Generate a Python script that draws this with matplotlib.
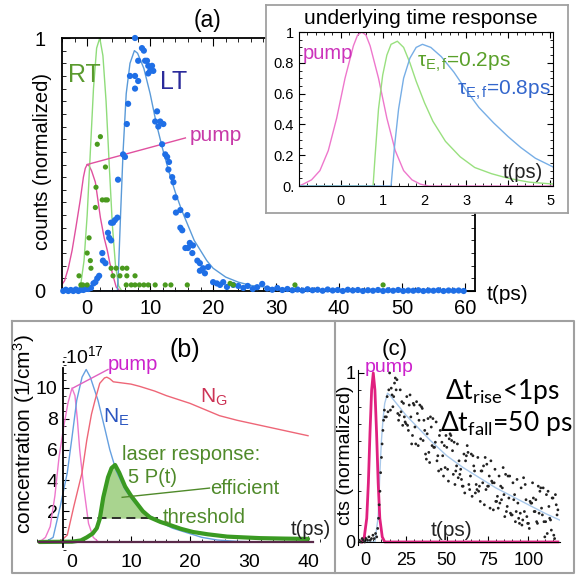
import numpy as np
import matplotlib.pyplot as plt
from matplotlib.ticker import MultipleLocator, FixedLocator

plt.rcParams['font.family'] = ['Liberation Sans', 'DejaVu Sans']
plt.rcParams['mathtext.fontset'] = 'custom'
plt.rcParams['mathtext.rm'] = 'Liberation Sans'
plt.rcParams['mathtext.it'] = 'Liberation Sans:italic'

# ---------------- panel (a): measured counts ----------------
a_lt_dots = [(-3.8, 0.0), (-3.4, 0.005), (-3.0, 0.0), (-2.6, 0.004), (-2.2, 0.0), (-1.8, 0.006),
             (-1.4, 0.0), (-1.0, 0.005), (-0.6, 0.004), (-0.2, 0.008), (0.2, 0.008), (0.6, 0.012),
             (1.0, 0.03), (1.3, 0.035), (1.6, 0.05), (1.9, 0.06), (2.4, 0.15), (2.5, 0.12), (2.9, 0.11),
             (3.3, 0.23), (3.5, 0.21), (3.8, 0.2), (3.8, 0.27), (4.1, 0.27), (4.4, 0.28), (4.8, 0.29),
             (4.9, 0.44), (5.7, 0.54), (6.0, 0.53), (6.3, 0.66), (6.5, 0.74), (6.8, 0.85), (7.6, 0.85),
             (8.1, 0.83), (7.6, 0.80), (7.6, 1.0), (8.1, 0.91), (8.7, 0.96), (9.0, 0.95), (9.2, 0.91),
             (9.5, 0.91), (9.7, 0.89), (10.3, 0.89), (10.0, 0.87), (10.5, 0.87), (9.7, 0.86), (11.1, 0.71),
             (10.8, 0.67), (11.6, 0.67), (12.1, 0.66), (11.3, 0.65), (11.9, 0.58), (12.4, 0.54), (12.7, 0.53),
             (13.0, 0.51), (12.9, 0.48), (13.5, 0.45), (13.7, 0.43), (14.0, 0.37), (14.8, 0.32), (14.1, 0.31),
             (15.9, 0.30), (14.8, 0.25), (15.1, 0.24), (16.3, 0.19), (16.8, 0.18), (16.0, 0.17), (15.6, 0.17),
             (16.7, 0.15), (17.5, 0.12), (17.9, 0.11), (18.4, 0.09), (19.2, 0.095), (17.9, 0.08), (18.7, 0.07),
             (20.0, 0.035), (20.6, 0.03), (21.1, 0.024), (21.6, 0.035), (22.2, 0.016), (23.2, 0.024),
             (24.0, 0.02), (24.8, 0.012), (25.5, 0.02), (26.3, 0.008), (27.0, 0.015), (27.8, 0.028),
             (28.6, 0.01), (29.4, 0.005), (30.2, 0.012), (31.0, 0.004), (31.8, 0.008), (32.6, 0.003),
             (33.4, 0.006), (34.2, 0.002), (35.0, 0.007), (35.8, 0.003), (36.6, 0.005), (37.4, 0.001),
             (38.2, 0.006), (39.0, 0.002), (39.8, 0.004), (40.6, 0.0), (41.4, 0.005), (42.2, 0.002),
             (43.0, 0.004), (43.8, 0.0), (44.6, 0.003), (45.4, 0.001), (46.2, 0.004), (47.0, 0.0),
             (47.8, 0.003), (48.6, 0.001), (49.4, 0.004), (50.2, 0.0), (51.0, 0.002), (51.8, 0.001),
             (52.6, 0.003), (53.4, 0.0), (54.2, 0.002), (55.0, 0.001), (55.8, 0.003), (56.6, 0.0),
             (57.4, 0.002), (58.2, 0.001), (59.0, 0.002), (59.8, 0.0)]
a_rt_dots = [(-1.3, 0.06), (-1.0, 0.024), (-0.7, 0.024), (0.0, 0.024), (0.0, 0.15), (0.3, 0.21),
             (0.6, 0.09), (0.5, 0.12), (1.3, 0.33), (1.4, 0.41), (1.6, 0.58), (2.1, 0.61), (2.4, 0.36),
             (2.9, 0.36), (3.2, 0.36), (2.9, 0.49), (3.8, 0.09), (4.1, 0.06), (4.6, 0.09), (5.2, 0.06),
             (5.6, 0.09), (6.3, 0.09), (6.3, 0.06), (7.6, 0.06), (6.2, 0.024), (7.0, 0.024), (7.6, 0.024),
             (8.3, 0.024), (9.0, 0.024), (9.7, 0.024), (10.8, 0.024), (12.4, 0.024), (13.3, 0.024),
             (15.9, 0.024), (22.7, 0.03), (23.2, 0.024), (33.0, 0.024), (47.0, 0.024)]
a_lt_fit_t = [-4, 4.8, 5.0, 5.3, 5.7, 6.2, 6.8, 7.5, 8, 9, 10, 11, 12, 13, 14, 15, 16, 17, 18, 19, 20,
              22, 24, 26, 30, 35, 40, 61.6]
a_lt_fit_v = [0, 0, 0.1, 0.3, 0.55, 0.78, 0.9, 0.95, 0.94, 0.88, 0.78, 0.66, 0.56, 0.47, 0.39, 0.32,
              0.26, 0.2, 0.16, 0.12, 0.09, 0.055, 0.035, 0.022, 0.01, 0.004, 0.002, 0]
a_rt_fit_t = [-4, -1.5, -1, -0.5, 0, 0.5, 1, 1.5, 2, 2.5, 3, 3.5, 4, 4.5, 5, 5.5, 61.6]
a_rt_fit_v = [0, 0, 0.03, 0.12, 0.3, 0.55, 0.8, 0.96, 1.0, 0.93, 0.75, 0.5, 0.26, 0.1, 0.02, 0, 0]
a_pump_t = [-4.3, -3.6, -3.0, -2.4, -1.8, -1.1, -0.6, -0.3, 0, 0.3, 0.7, 1.3, 2.1, 2.7, 3.2, 3.6, 4.0,
            4.6, 5.2, 25]
a_pump_v = [0.016, 0.04, 0.09, 0.16, 0.25, 0.36, 0.45, 0.485, 0.5, 0.495, 0.475, 0.43, 0.29, 0.21,
            0.16, 0.11, 0.07, 0.016, 0, 0]

# inset: underlying time response
ins_pump_t = [-1, -0.9, -0.7, -0.5, -0.3, -0.1, 0.1, 0.3, 0.4, 0.5, 0.6, 0.7, 0.9, 1.1, 1.3, 1.5, 1.7,
              1.9, 2.1, 5.1]
ins_pump_v = [0, 0.012, 0.04, 0.1, 0.23, 0.44, 0.7, 0.91, 0.98, 1.0, 0.98, 0.91, 0.7, 0.44, 0.23,
              0.1, 0.04, 0.012, 0, 0]
ins_fast_t = [-1, 0.77, 0.82, 0.9, 1.0, 1.1, 1.2, 1.35, 1.5, 1.65, 1.8, 2.0, 2.2, 2.5, 2.85, 3.2, 3.6,
              4.0, 4.5, 5.1]
ins_fast_v = [0, 0, 0.2, 0.5, 0.72, 0.85, 0.92, 0.94, 0.9, 0.8, 0.68, 0.54, 0.42, 0.29, 0.19, 0.12,
              0.08, 0.05, 0.025, 0.012]
ins_slow_t = [-1, 1.2, 1.28, 1.38, 1.5, 1.65, 1.8, 1.95, 2.15, 2.4, 2.7, 3.0, 3.3, 3.65, 4.0, 4.3,
              4.65, 5.1]
ins_slow_v = [0, 0, 0.25, 0.5, 0.7, 0.83, 0.9, 0.92, 0.9, 0.84, 0.74, 0.62, 0.51, 0.41, 0.32, 0.25,
              0.18, 0.12]

# ---------------- panel (b): rate equation model ----------------
b_pump_t = [-5.5, -4.5, -3.7, -2.9, -2.2, -1.4, -0.7, 0, 0.5, 0.9, 1.3, 2.0, 2.8, 3.6, 4.5, 40]
b_pump_v = [0, 0.3, 1.0, 3.0, 5.5, 7.5, 9.0, 10.0, 9.5, 8.0, 6.0, 3.5, 1.2, 0.3, 0, 0]
b_ne_t = [-5.5, -4.5, -3.2, -2.0, -0.8, 0, 0.8, 1.7, 2.4, 3.1, 4.4, 5.6, 6.4, 7.5, 9, 10.3, 12, 14.4,
          17, 19.5, 22, 24.6, 28, 32, 40]
b_ne_v = [0, 0, 0.3, 2.3, 4.5, 6.8, 9.2, 10.7, 11.2, 10.7, 9.2, 7.3, 6.0, 4.6, 3.4, 2.7, 2.0, 1.4,
          0.9, 0.6, 0.3, 0.13, 0.04, 0, 0]
b_ng_t = [-5.5, -3, -1.8, -0.8, 0.3, 1.7, 2.5, 3.3, 3.9, 4.7, 5.5, 5.9, 6.4, 7.0, 8, 10, 11.5, 14, 16,
          18, 20, 22.5, 25, 28, 31, 34, 37, 40]
b_ng_v = [0, 0, 0.1, 0.45, 2.3, 4.5, 6.6, 8.3, 9.2, 10.3, 10.65, 10.7, 10.6, 10.4, 10.35, 10.25, 10.1,
          9.8, 9.5, 9.25, 9.0, 8.6, 8.2, 7.9, 7.65, 7.4, 7.15, 6.9]
b_laser_t = [-5.5, 0, 1.5, 2.5, 3.5, 4.2, 4.7, 5.3, 6.1, 6.7, 7.3, 8, 9, 10, 11, 12, 13.2, 15, 16.6,
             18.5, 20.5, 23, 26.3, 29, 31.9, 36, 40]
b_laser_v = [0, 0.02, 0.1, 0.3, 0.55, 0.9, 1.5, 2.9, 4.2, 4.8, 5.0, 4.5, 3.6, 3.0, 2.5, 2.0, 1.6, 1.3,
             1.1, 0.85, 0.65, 0.5, 0.35, 0.3, 0.25, 0.22, 0.2]
b_threshold = 1.55
b_threshold_t = [1.8, 14.5]

# ---------------- panel (c): measured laser response ----------------
c_pump_t = [-2, -0.5, 1, 2, 3, 4, 5, 6, 7, 8, 9, 10.5, 12, 118]
c_pump_v = [0, 0.03, 0.14, 0.35, 0.65, 0.9, 1.0, 0.9, 0.65, 0.35, 0.14, 0.03, 0, 0]
c_fit_t = [-4, 6, 8, 9, 10, 11, 12, 13.7, 15, 20, 25, 30, 35, 40, 50, 60, 70, 80, 90, 100, 110, 119]
c_fit_v = [0, 0, 0.15, 0.4, 0.6, 0.73, 0.82, 0.88, 0.87, 0.81, 0.75, 0.7, 0.65, 0.6, 0.51, 0.44, 0.38,
           0.32, 0.27, 0.22, 0.17, 0.13]
c_dots = [(-3.5, 0.01), (-2.6, 0.0), (-1.8, 0.02), (-1.0, 0.01), (-0.2, 0.0), (0.6, 0.02), (1.5, 0.01),
          (2.3, 0.03), (3.1, 0.01), (3.9, 0.02), (4.8, 0.04), (5.6, 0.02), (6.4, 0.05), (7.1, 0.03),
          (7.7, 0.08), (8.2, 0.14), (8.6, 0.22), (9.1, 0.3), (9.5, 0.41), (10.0, 0.5), (10.4, 0.58),
          (10.9, 0.66), (11.3, 0.72), (11.8, 0.78), (12.2, 0.74),
          (13.0, 0.74), (13.5, 0.86), (14.0, 0.77), (14.5, 0.90), (15.0, 1.0), (15.5, 0.78), (16.0, 0.91),
          (16.5, 0.87), (17.0, 0.80), (17.5, 0.86), (18.0, 0.94), (18.5, 0.97), (19.0, 0.90), (19.5, 0.96),
          (20.0, 0.76), (20.5, 0.72), (21.0, 0.75), (21.5, 0.90), (22.0, 0.77), (22.5, 0.83), (23.0, 0.69),
          (23.5, 0.82), (24.0, 0.74), (24.5, 0.71), (25.0, 0.70), (25.5, 0.86), (26.0, 0.69), (26.5, 0.66),
          (27.0, 0.81), (27.5, 0.87), (28.0, 0.74), (28.5, 0.58), (29.0, 0.63), (29.5, 0.82), (30.0, 0.81),
          (30.5, 0.68), (31.0, 0.58), (31.5, 0.83), (32.0, 0.76), (32.5, 0.57), (33.0, 0.72), (33.5, 0.81),
          (34.0, 0.61), (34.5, 0.80), (35.0, 0.79), (35.5, 0.60), (36.0, 0.72), (36.5, 0.66), (37.0, 0.52),
          (37.5, 0.49), (38.0, 0.64), (38.5, 0.73), (39.0, 0.53), (39.5, 0.47), (40.0, 0.74), (40.5, 0.68),
          (41.0, 0.57), (41.5, 0.73), (42.0, 0.56), (42.5, 0.56), (43.0, 0.59), (43.5, 0.71), (44.0, 0.48),
          (44.5, 0.51), (45.0, 0.42), (45.5, 0.63), (46.0, 0.66), (46.5, 0.43), (47.0, 0.59), (47.5, 0.51),
          (48.0, 0.39), (48.5, 0.57), (49.0, 0.44), (49.5, 0.63), (50.0, 0.56), (50.5, 0.43), (51.0, 0.36),
          (51.5, 0.61), (52.0, 0.64), (52.5, 0.63), (53.0, 0.60), (53.5, 0.54), (54.0, 0.40), (54.5, 0.59),
          (55.0, 0.34), (55.5, 0.42), (56.0, 0.45), (56.5, 0.58), (57.0, 0.38), (57.5, 0.48), (58.0, 0.40),
          (58.5, 0.43), (59.0, 0.37), (59.5, 0.33), (60.0, 0.33), (60.5, 0.52), (61.0, 0.29), (61.5, 0.48),
          (62.0, 0.51), (62.5, 0.57), (63.0, 0.53), (63.5, 0.34), (64.0, 0.31), (64.5, 0.39), (65.0, 0.52),
          (65.5, 0.27), (66.0, 0.51), (66.5, 0.45), (67.0, 0.42), (67.5, 0.29), (68.0, 0.34), (68.5, 0.31),
          (69.0, 0.50), (69.5, 0.30), (70.0, 0.33), (70.5, 0.24), (71.0, 0.42), (71.5, 0.42), (72.0, 0.35),
          (72.5, 0.45), (73.0, 0.22), (73.5, 0.50), (74.0, 0.31), (74.5, 0.46), (75.0, 0.33), (75.5, 0.33),
          (76.0, 0.39), (76.5, 0.20), (77.0, 0.48), (77.5, 0.36), (78.0, 0.35), (78.5, 0.19), (79.0, 0.35),
          (79.5, 0.43), (80.0, 0.24), (80.5, 0.24), (81.0, 0.27), (81.5, 0.20), (82.0, 0.39), (82.5, 0.23),
          (83.0, 0.33), (83.5, 0.25), (84.0, 0.32), (84.5, 0.44), (85.0, 0.28), (85.5, 0.15), (86.0, 0.40),
          (86.5, 0.18), (87.0, 0.21), (87.5, 0.39), (88.0, 0.26), (88.5, 0.39), (89.0, 0.17), (89.5, 0.16),
          (90.0, 0.16), (90.5, 0.35), (91.0, 0.25), (91.5, 0.28), (92.0, 0.12), (92.5, 0.18), (93.0, 0.37),
          (93.5, 0.23), (94.0, 0.14), (94.5, 0.11), (95.0, 0.17), (95.5, 0.32), (96.0, 0.10), (96.5, 0.13),
          (97.0, 0.38), (97.5, 0.18), (98.0, 0.34), (98.5, 0.25), (99.0, 0.15), (99.5, 0.11), (100.0, 0.11),
          (100.5, 0.08), (101.0, 0.24), (101.5, 0.23), (102.0, 0.23), (102.5, 0.35), (103.0, 0.26),
          (103.5, 0.18), (104.0, 0.18), (104.5, 0.25), (105.0, 0.12), (105.5, 0.11), (106.0, 0.33),
          (106.5, 0.17), (107.0, 0.30), (107.5, 0.32), (108.0, 0.20), (108.5, 0.16), (109.0, 0.32),
          (109.5, 0.12), (110.0, 0.03), (110.5, 0.12), (111.0, 0.28), (111.5, 0.05), (112.0, 0.30),
          (112.5, 0.21), (113.0, 0.14), (113.5, 0.13), (114.0, 0.07), (114.5, 0.26), (115.0, 0.26),
          (115.5, 0.04), (116.0, 0.02), (116.5, 0.28), (117.0, 0.22), (117.5, 0.16), (118.0, 0.19)]

W, H = 577, 576
fig = plt.figure(figsize=(W / 100, H / 100), dpi=100)


def px_axes(l, t, r, b):
    # axes placed by pixel box (left, top, right, bottom)
    return fig.add_axes([l / W, 1 - b / H, (r - l) / W, (b - t) / H])


def ftext(x, y, s, **kw):
    fig.text(x / W, 1 - y / H, s, **kw)


# background frame lines for (b) and (c)
bg = fig.add_axes([0, 0, 1, 1], zorder=-5)
bg.set_xlim(0, W)
bg.set_ylim(H, 0)
bg.axis('off')
frame_col = '#a0a0a0'
bg.plot([12, 574, 574, 12, 12], [321, 321, 573, 573, 321], color=frame_col, lw=1.5)
bg.plot([335, 335], [321, 573], color=frame_col, lw=1.5)

# ---------------- (a) ----------------
ax = px_axes(62, 38, 475, 291)
ax.set_facecolor('none')
ax.set_xlim(-4, 61.6)
ax.set_ylim(0, 1)
ax.plot(a_pump_t, a_pump_v, color='#e0509f', lw=1.0)
ax.plot(a_rt_fit_t, a_rt_fit_v, color='#8fdc7a', lw=1.0)
ax.plot(a_lt_fit_t, a_lt_fit_v, color='#5a9ad8', lw=1.0)
lt = np.array(a_lt_dots)
rt = np.array(a_rt_dots)
ax.scatter(lt[:, 0], lt[:, 1], s=20, color='#1f6fe6', edgecolors='none', clip_on=False, zorder=3)
ax.scatter(rt[:, 0], rt[:, 1], s=14, color='#4a9a1e', edgecolors='none', clip_on=False, zorder=4)
ax.plot([0, 15.6], [0.5, 0.605], color='#e0509f', lw=1.0)
ax.text(16.3, 0.615, 'pump', color='#c83aa8', fontsize=15, va='center')
ax.text(-3.0, 0.854, 'RT', color='#5a9a2e', fontsize=18, va='center')
ax.text(11.6, 0.826, 'LT', color='#2b2b9b', fontsize=18, va='center')
ax.xaxis.set_major_locator(MultipleLocator(10))
ax.xaxis.set_minor_locator(MultipleLocator(2))
ax.yaxis.set_major_locator(FixedLocator([0, 1]))
ax.yaxis.set_minor_locator(MultipleLocator(0.05))
ax.tick_params(which='both', direction='in', top=True, right=True, labelsize=14.5)
ax.tick_params(which='major', length=6)
ax.tick_params(which='minor', length=3)
ax.tick_params(axis='y', pad=12)
ax.tick_params(axis='x', pad=6)
for sp in ax.spines.values():
    sp.set_linewidth(1.3)
ftext(43, 162, 'counts (normalized)', rotation=90, fontsize=14.5, ha='center', va='center')
ftext(207, 20, '(a)', fontsize=16.5, ha='center', va='center')
ftext(487, 295, 't(ps)', fontsize=15, ha='left', va='center')

# inset box
box = px_axes(266, 5, 568, 213)
box.set_facecolor('white')
box.set_xticks([])
box.set_yticks([])
for sp in box.spines.values():
    sp.set_color(frame_col)
    sp.set_linewidth(1.3)

ins = px_axes(299, 32, 553, 186)
ins.set_xlim(-1, 5.07)
ins.set_ylim(0, 1)
ins.plot(ins_pump_t, ins_pump_v, color='#ee77cc', lw=1.0)
ins.plot(ins_fast_t, ins_fast_v, color='#99e07f', lw=1.0)
ins.plot(ins_slow_t, ins_slow_v, color='#77aee6', lw=1.0)
ins.text(-0.9, 0.86, 'pump', color='#cc33bb', fontsize=14.5, va='center')
ins.text(1.82, 0.8, r'τ$_{\mathregular{E,f}}$=0.2ps', color='#5aa02a', fontsize=15, va='center')
ins.text(2.77, 0.62, r'τ$_{\mathregular{E,f}}$=0.8ps', color='#3366cc', fontsize=15, va='center')
ins.text(3.88, 0.09, 't(ps)', color='#222222', fontsize=14.5, va='center')
ins.xaxis.set_major_locator(FixedLocator([0, 1, 2, 3, 4, 5]))
ins.xaxis.set_minor_locator(MultipleLocator(0.2))
ins.set_yticks([0, 0.2, 0.4, 0.6, 0.8, 1.0])
ins.set_yticklabels(['0.', '0.2', '0.4', '0.6', '0.8', '1'])
ins.yaxis.set_minor_locator(MultipleLocator(0.05))
ins.tick_params(which='both', direction='in', top=True, right=True, labelsize=10.5)
ins.tick_params(which='major', length=4)
ins.tick_params(which='minor', length=2)
ins.tick_params(axis='x', pad=6)
ftext(421, 18, 'underlying time response', fontsize=15, ha='center', va='center')

# ---------------- (b) ----------------
bx = px_axes(30, 355, 320, 550)
bx.set_facecolor('none')
bx.set_xlim(-7.12, 42.03)
bx.set_ylim(-0.52, 12.14)
bx.plot(b_pump_t, b_pump_v, color='#ee77cc', lw=1.0)
bx.plot(b_ne_t, b_ne_v, color='#66a0e0', lw=1.0)
bx.plot(b_ng_t, b_ng_v, color='#ee6677', lw=1.0)
lt_b = np.array(b_laser_t)
lv_b = np.array(b_laser_v)
bx.fill_between(lt_b, lv_b, b_threshold, where=lv_b > b_threshold, interpolate=True,
                color='#a9d48f', lw=0)
bx.plot(b_threshold_t, [b_threshold, b_threshold], color='#222222', lw=1.3, ls=(0, (5, 3)))
bx.plot(lt_b, lv_b, color='#3a9a22', lw=3.0, solid_capstyle='round')
bx.plot([0.17, 6.1], [10.0, 11.2], color='#e060c0', lw=1.0)
bx.text(6.1, 11.55, 'pump', color='#cc22cc', fontsize=14.5, va='center')
bx.text(21.7, 9.4, r'N$_{\mathregular{G}}$', color='#cc3355', fontsize=15, va='center')
bx.text(5.25, 8.1, r'N$_{\mathregular{E}}$', color='#2a55c0', fontsize=15, va='center')
green_txt = '#4f8a2a'
bx.text(8.5, 5.65, 'laser response:', color=green_txt, fontsize=14.5, va='center')
bx.text(9.5, 4.2, '5 P(t)', color=green_txt, fontsize=14.5, va='center')
bx.plot([8.5, 23.3], [2.9, 3.5], color=green_txt, lw=1.0)
bx.text(23.4, 3.5, 'efficient', color=green_txt, fontsize=14.5, va='center')
bx.text(15.4, 1.56, 'threshold', color=green_txt, fontsize=14.5, va='center')
bx.text(37.0, 0.84, 't(ps)', color='#222222', fontsize=14.5, va='center')
for s in ['top', 'right']:
    bx.spines[s].set_visible(False)
bx.spines['left'].set_position(('data', -1.5))
bx.spines['left'].set_bounds(-0.3, 11.3)
bx.spines['bottom'].set_position(('data', 0))
bx.spines['bottom'].set_bounds(-5.6, 40.8)
bx.spines['bottom'].set_color('#5a2a4a')
bx.spines['bottom'].set_linewidth(1.6)
bx.spines['left'].set_linewidth(1.3)
bx.xaxis.set_major_locator(FixedLocator([0, 10, 20, 30, 40]))
bx.xaxis.set_minor_locator(MultipleLocator(2))
bx.yaxis.set_major_locator(FixedLocator([2, 4, 6, 8, 10]))
bx.yaxis.set_minor_locator(MultipleLocator(0.5))
bx.tick_params(which='both', direction='in', labelsize=14)
bx.tick_params(which='major', length=4)
bx.tick_params(which='minor', length=2)
bx.tick_params(axis='x', pad=9)
bx.tick_params(axis='y', pad=4)
ftext(24, 434, r'concentration (1/cm$^{\mathregular{3}}$)', rotation=90, fontsize=15,
      ha='center', va='center')
ftext(185, 350, '(b)', fontsize=18, ha='center', va='center')
ftext(60, 363, r'.10$^{\mathregular{17}}$', fontsize=14, ha='left', va='baseline')

# ---------------- (c) ----------------
cx = px_axes(358, 365, 560, 545)
cx.set_facecolor('none')
cx.set_xlim(-4.35, 119.3)
cx.set_ylim(-0.018, 1.047)
cd = np.array(c_dots)
cx.plot(c_fit_t, c_fit_v, color='#a8c8ea', lw=1.0)
cx.plot(c_pump_t, c_pump_v, color='#e0207f', lw=2.0)
cx.scatter(cd[:, 0], cd[:, 1], s=4, color='#222222', edgecolors='none', zorder=3)
for s in ['top', 'right']:
    cx.spines[s].set_visible(False)
cx.spines['bottom'].set_position(('data', 0))
cx.spines['left'].set_bounds(-0.018, 1.02)
cx.xaxis.set_major_locator(FixedLocator([0, 25, 50, 75, 100]))
cx.xaxis.set_minor_locator(MultipleLocator(5))
cx.yaxis.set_major_locator(FixedLocator([0, 1]))
cx.yaxis.set_minor_locator(MultipleLocator(0.1))
cx.tick_params(which='both', direction='in', labelsize=13)
cx.tick_params(which='major', length=4)
cx.tick_params(which='minor', length=2)
cx.tick_params(axis='x', pad=7)
cx.tick_params(axis='y', pad=2)
cx.text(0, 1.035, 'pump', color='#cc22cc', fontsize=14, ha='left', va='center', clip_on=False)
cx.text(40.4, 0.07, 't(ps)', color='#222222', fontsize=15, va='center')
ftext(345, 455, 'cts (normalized)', rotation=90, fontsize=14, ha='center', va='center')
ftext(395, 350, '(c)', fontsize=16, ha='center', va='center')
ftext(445, 392, r'Δt$_{\mathregular{rise}}$<1ps', family=['Lato', 'DejaVu Sans'], fontsize=19,
      ha='left', va='center')
ftext(440, 423, r'Δt$_{\mathregular{fall}}$=50 ps', family=['Lato', 'DejaVu Sans'], fontsize=19,
      ha='left', va='center')

fig.savefig('out.png', dpi=100)
